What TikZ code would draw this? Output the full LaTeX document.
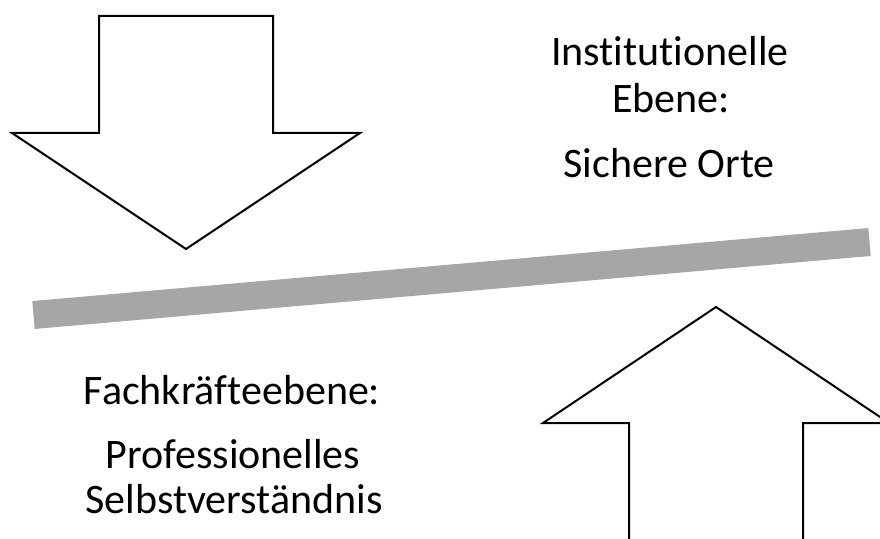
\documentclass[tikz,border=0pt]{standalone}
\usepackage{fontspec}
\setmainfont{Carlito}[Ligatures={NoCommon}]

\def\firstarrow{(99,16) -- (273,16) -- (273,133) -- (360,133) -- (186,249) -- (12,133) -- (99,133) -- cycle}
\def\secondarrow{(629,545) -- (629,423) -- (543,423) -- (716,307) -- (889,423) -- (803,423) -- (803,545) -- cycle}
\def\beamline{(33.5,315) -- (869.5,242)}
\definecolor{beam gray}{RGB}{166,166,166}
\colorlet{arrow edge}{black!100}
\tikzset{
  outline/.style={draw=arrow edge, line width=1.5pt, fill=white},
  beam/.style={draw=beam gray, line width=21pt, line cap=butt},
  leveltext/.style={font=\fontsize{31.5}{37.8}\selectfont, anchor=base, inner sep=0pt}
}

\begin{document}
\begin{tikzpicture}[x=0.75pt, y=-0.75pt]
  \useasboundingbox (0,0) rectangle (880,538);

  \draw[beam] \beamline;

  \draw[outline] \firstarrow;
  \draw[outline] \secondarrow;

  \node[leveltext] (inst) at (670,66) {Institutionelle};
  \node[leveltext] (ebene) at (671,113) {Ebene:};
  \node[leveltext] (orte) at (669,178) {Sichere Orte};

  \node[leveltext] (fach) at (232,404) {Fachkräfteebene:};
  \node[leveltext] (prof) at (233,468) {Professionelles};
  \node[leveltext] (selbst) at (234,513) {Selbstverständnis};
\end{tikzpicture}
\end{document}
